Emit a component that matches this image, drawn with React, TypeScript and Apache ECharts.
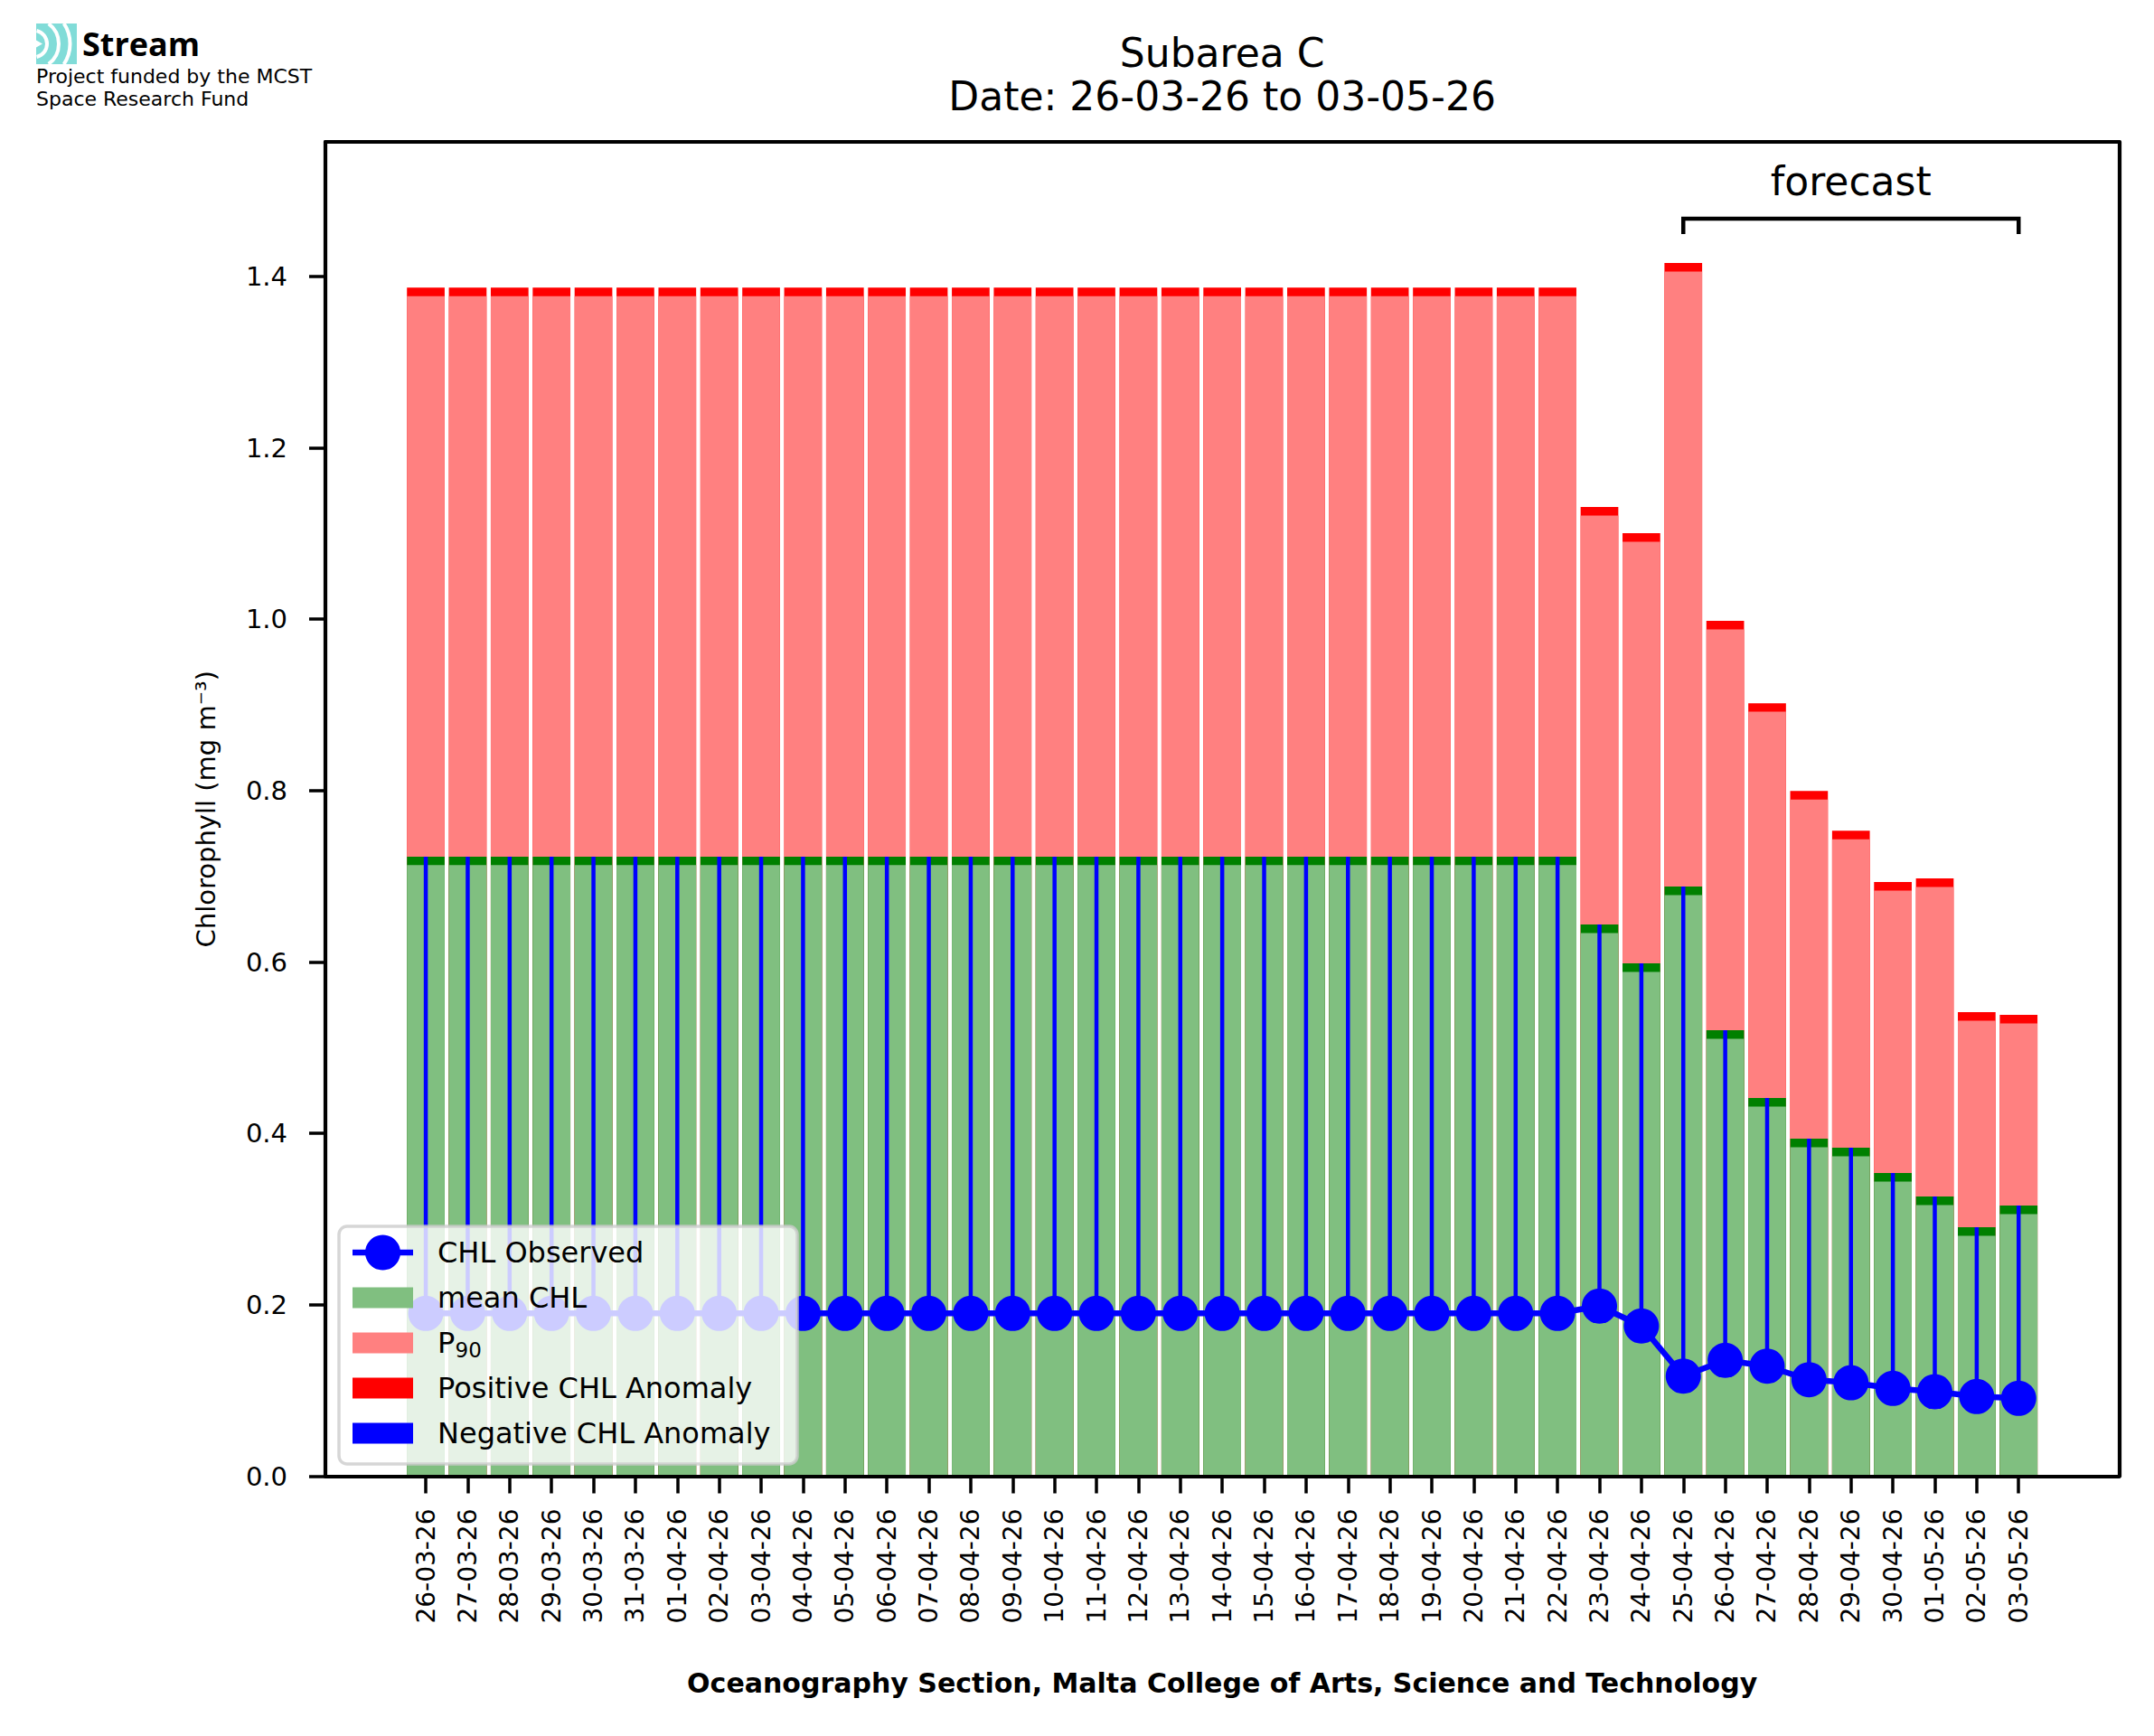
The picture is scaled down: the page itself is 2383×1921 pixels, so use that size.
import React, { useEffect, useRef } from "react";
import * as echarts from "echarts";

// ---------------- data ----------------
const dates = [
  "26-03-26", "27-03-26", "28-03-26", "29-03-26", "30-03-26", "31-03-26",
  "01-04-26", "02-04-26", "03-04-26", "04-04-26", "05-04-26", "06-04-26",
  "07-04-26", "08-04-26", "09-04-26", "10-04-26", "11-04-26", "12-04-26",
  "13-04-26", "14-04-26", "15-04-26", "16-04-26", "17-04-26", "18-04-26",
  "19-04-26", "20-04-26", "21-04-26", "22-04-26", "23-04-26", "24-04-26",
  "25-04-26", "26-04-26", "27-04-26", "28-04-26", "29-04-26", "30-04-26",
  "01-05-26", "02-05-26", "03-05-26",
];

const observed = [
  0.19, 0.19, 0.19, 0.19, 0.19, 0.19, 0.19, 0.19, 0.19, 0.19,
  0.19, 0.19, 0.19, 0.19, 0.19, 0.19, 0.19, 0.19, 0.19, 0.19,
  0.19, 0.19, 0.19, 0.19, 0.19, 0.19, 0.19, 0.19,
  0.1985, 0.1753, 0.1168, 0.1352, 0.1284, 0.1126, 0.1091, 0.1025,
  0.0986, 0.093, 0.0909,
];

const meanChl = [
  0.723, 0.723, 0.723, 0.723, 0.723, 0.723, 0.723, 0.723, 0.723, 0.723,
  0.723, 0.723, 0.723, 0.723, 0.723, 0.723, 0.723, 0.723, 0.723, 0.723,
  0.723, 0.723, 0.723, 0.723, 0.723, 0.723, 0.723, 0.723,
  0.6438, 0.5985, 0.6881, 0.5204, 0.4413, 0.3939, 0.3833, 0.3538,
  0.3264, 0.2905, 0.3158,
];

const p90 = [
  1.387, 1.387, 1.387, 1.387, 1.387, 1.387, 1.387, 1.387, 1.387, 1.387,
  1.387, 1.387, 1.387, 1.387, 1.387, 1.387, 1.387, 1.387, 1.387, 1.387,
  1.387, 1.387, 1.387, 1.387, 1.387, 1.387, 1.387, 1.387,
  1.131, 1.1004, 1.4157, 0.998, 0.902, 0.7997, 0.7533, 0.6934,
  0.6976, 0.5415, 0.5383,
];

const yTicks = [0, 0.2, 0.4, 0.6, 0.8, 1.0, 1.2, 1.4];
const forecastStartIndex = 30;
const forecastEndIndex = 38;

// ---------------- styling / layout constants ----------------
const FONT = "'DejaVu Sans', sans-serif";
const STRIP = 0.01; // thickness of the mean / P90 marker strips
const X_MIN = -2.395;
const X_MAX = 40.395;
const Y_MAX = 1.557;
const BRACKET_TOP = 1.4674;
const BRACKET_LEG = 1.4494;
const FORECAST_TEXT_Y = 1.5107;
const FRAME_W = 4.2;

const C_GREEN_LIGHT = "#80bf80";
const C_GREEN_DARK = "#008000";
const C_PINK = "#ff8080";
const C_RED = "#ff0000";
const C_BLUE = "#0000ff";

const idx = dates.map((_, i) => i);

function buildOption(): any {
  // Overlapping (not stacked) bars, painted back to front:
  // red P90 strip, pink P90 body, dark-green mean strip, light-green mean body.
  const barCommon = {
    type: "bar",
    barWidth: 41.7,
    barGap: "-100%",
    silent: true,
    z: 2,
    clip: false,
  };
  return {
    animation: false,
    backgroundColor: "#ffffff",
    textStyle: { fontFamily: FONT },
    grid: {
      left: 360,
      top: 157,
      right: 38.7,
      bottom: 287.5,
      containLabel: false,
      outerBoundsMode: "none",
    },
    xAxis: [
      {
        type: "value",
        min: X_MIN,
        max: X_MAX,
        position: "bottom",
        z: 10,
        axisLine: { show: true, onZero: false, lineStyle: { color: "#000", width: FRAME_W } },
        axisTick: {
          show: true,
          length: 19,
          lineStyle: { color: "#000", width: 3.5 },
          customValues: idx,
        },
        axisLabel: {
          show: true,
          rotate: 90,
          margin: 36,
          fontSize: 28,
          color: "#000",
          fontFamily: FONT,
          customValues: idx,
          formatter: (v: number) => dates[Math.round(v)] ?? "",
        },
        splitLine: { show: false },
      },
      {
        type: "value",
        min: X_MIN,
        max: X_MAX,
        position: "top",
        z: 10,
        axisLine: { show: true, onZero: false, lineStyle: { color: "#000", width: FRAME_W } },
        axisTick: { show: false },
        axisLabel: { show: false },
        splitLine: { show: false },
      },
    ],
    yAxis: [
      {
        type: "value",
        min: 0,
        max: Y_MAX,
        position: "left",
        z: 10,
        axisLine: { show: true, onZero: false, lineStyle: { color: "#000", width: FRAME_W } },
        axisTick: {
          show: true,
          length: 18,
          lineStyle: { color: "#000", width: 3.5 },
          customValues: yTicks,
        },
        axisLabel: {
          show: true,
          margin: 42,
          fontSize: 29,
          color: "#000",
          fontFamily: FONT,
          customValues: yTicks,
          formatter: (v: number) => v.toFixed(1),
        },
        splitLine: { show: false },
      },
      {
        type: "value",
        min: 0,
        max: Y_MAX,
        position: "right",
        z: 10,
        axisLine: { show: true, onZero: false, lineStyle: { color: "#000", width: FRAME_W } },
        axisTick: { show: false },
        axisLabel: { show: false },
        splitLine: { show: false },
      },
    ],
    series: [
      {
        ...barCommon,
        name: "Positive CHL Anomaly",
        itemStyle: { color: C_RED },
        data: p90.map((p, i) => [i, p]),
      },
      {
        ...barCommon,
        name: "P90",
        itemStyle: { color: C_PINK },
        data: p90.map((p, i) => [i, p - STRIP]),
      },
      {
        ...barCommon,
        name: "mean strip",
        itemStyle: { color: C_GREEN_DARK },
        data: meanChl.map((m, i) => [i, m]),
      },
      {
        ...barCommon,
        name: "mean CHL",
        itemStyle: { color: C_GREEN_LIGHT },
        data: meanChl.map((m, i) => [i, m - STRIP]),
      },
      {
        type: "custom",
        name: "Negative CHL Anomaly",
        silent: true,
        z: 3,
        clip: false,
        encode: { x: 0, y: [1, 2] },
        data: observed.map((o, i) => [i, o, meanChl[i]]),
        renderItem: (_params: any, api: any) => {
          const x = api.value(0);
          const lo = api.coord([x, api.value(1)]);
          const hi = api.coord([x, api.value(2)]);
          return {
            type: "line",
            shape: { x1: lo[0], y1: lo[1], x2: hi[0], y2: hi[1] },
            style: { stroke: C_BLUE, lineWidth: 4.5 },
          };
        },
      },
      {
        type: "line",
        name: "CHL Observed",
        silent: true,
        z: 4,
        clip: false,
        symbol: "circle",
        symbolSize: 39,
        showSymbol: true,
        lineStyle: { color: C_BLUE, width: 6.5 },
        itemStyle: { color: C_BLUE },
        data: observed.map((o, i) => [i, o]),
      },
    ],
  };
}

function buildGraphics(chart: any): any[] {
  const toPx = (x: number, y: number) =>
    chart.convertToPixel({ xAxisIndex: 0, yAxisIndex: 0 }, [x, y]) as number[];

  const a = toPx(forecastStartIndex, BRACKET_LEG);
  const b = toPx(forecastStartIndex, BRACKET_TOP);
  const c = toPx(forecastEndIndex, BRACKET_TOP);
  const d = toPx(forecastEndIndex, BRACKET_LEG);
  const t = toPx((forecastStartIndex + forecastEndIndex) / 2, FORECAST_TEXT_Y);

  const gridLeft = toPx(X_MIN, 0)[0];
  const gridRight = toPx(X_MAX, 0)[0];
  const gridTop = toPx(0, Y_MAX)[1];
  const gridBottom = toPx(0, 0)[1];
  const cx = (gridLeft + gridRight) / 2;
  const cy = (gridTop + gridBottom) / 2;

  const txt = (id: string, x: number, y: number, text: string, size: number, extra: any = {}) => ({
    type: "text",
    id,
    x,
    y,
    z: 100,
    silent: true,
    style: {
      text,
      fill: "#000",
      fontSize: size,
      fontFamily: FONT,
      align: "left",
      verticalAlign: "middle",
      ...extra,
    },
  });

  // legend (drawn manually, matplotlib style)
  const lgX = 375;
  const lgY = 1357;
  const rowY = [1386, 1436, 1486, 1536, 1586];
  const hx0 = 390;
  const hw = 67;
  const textX = 484;
  const patch = (id: string, row: number, color: string) => ({
    type: "rect",
    id,
    z: 101,
    silent: true,
    shape: { x: hx0, y: rowY[row] - 11.5, width: hw, height: 23 },
    style: { fill: color },
  });

  const legend = [
    {
      type: "rect",
      id: "lg-box",
      z: 100,
      silent: true,
      shape: { x: lgX, y: lgY, width: 507, height: 263, r: 9 },
      style: { fill: "rgba(255,255,255,0.8)", stroke: "rgba(204,204,204,0.8)", lineWidth: 3.5 },
    },
    {
      type: "line",
      id: "lg-line",
      z: 101,
      silent: true,
      shape: { x1: hx0, y1: rowY[0], x2: hx0 + hw, y2: rowY[0] },
      style: { stroke: C_BLUE, lineWidth: 6.5 },
    },
    {
      type: "circle",
      id: "lg-dot",
      z: 102,
      silent: true,
      shape: { cx: hx0 + hw / 2, cy: rowY[0], r: 19.5 },
      style: { fill: C_BLUE },
    },
    patch("lg-p1", 1, C_GREEN_LIGHT),
    patch("lg-p2", 2, C_PINK),
    patch("lg-p3", 3, C_RED),
    patch("lg-p4", 4, C_BLUE),
    { ...txt("lg-t0", textX, rowY[0], "CHL Observed", 32), z: 103 },
    { ...txt("lg-t1", textX, rowY[1], "mean CHL", 32), z: 103 },
    { ...txt("lg-t2", textX, rowY[2], "P", 32), z: 103 },
    { ...txt("lg-t2s", textX + 19.5, rowY[2] + 8, "90", 23), z: 103 },
    { ...txt("lg-t3", textX, rowY[3], "Positive CHL Anomaly", 32), z: 103 },
    { ...txt("lg-t4", textX, rowY[4], "Negative CHL Anomaly", 32), z: 103 },
  ];

  // logo
  const logo = [
    {
      type: "rect",
      id: "logo-bg",
      z: 10,
      silent: true,
      shape: { x: 40, y: 26, width: 45, height: 45 },
      style: { fill: "#81dcd8" },
    },
    ...[
      { r: 15, a: 1.33 },
      { r: 28, a: 0.93 },
      { r: 40.5, a: 0.59 },
    ].map((o, k) => ({
      type: "arc",
      id: "logo-arc" + k,
      z: 11,
      silent: true,
      shape: { cx: 37, cy: 48.5, r: o.r, startAngle: -o.a, endAngle: o.a, clockwise: true },
      style: { stroke: "#ffffff", lineWidth: 4, fill: "none" },
    })),
    {
      type: "polygon",
      id: "logo-notch",
      z: 11,
      silent: true,
      shape: { points: [[40, 44.5], [47, 48.5], [40, 52.5]] },
      style: { fill: "#ffffff" },
    },
    {
      ...txt("logo-name", 91, 48, "Stream", 36, { fontFamily: "'Open Sans', sans-serif", fontWeight: "bold" }),
    },
    txt("logo-l1", 40, 84, "Project funded by the MCST", 22),
    txt("logo-l2", 40, 109, "Space Research Fund", 22),
  ];

  return [
    txt("title1", cx, 58.5, "Subarea C", 44, { align: "center" }),
    txt("title2", cx, 106.5, "Date: 26-03-26 to 03-05-26", 44, { align: "center" }),
    {
      ...txt("ylabel", 228, cy, "Chlorophyll (mg m⁻³)", 29, { align: "center" }),
      rotation: Math.PI / 2,
    },
    txt(
      "xlabel",
      cx,
      1862,
      "Oceanography Section, Malta College of Arts, Science and Technology",
      30,
      { align: "center", fontWeight: "bold" }
    ),
    {
      type: "polyline",
      id: "bracket",
      z: 10,
      silent: true,
      shape: { points: [a, b, c, d] },
      style: { stroke: "#000", lineWidth: 4.5, fill: "none", lineJoin: "miter" },
    },
    txt("forecast", t[0], t[1], "forecast", 44, { align: "center" }),
    ...legend,
    ...logo,
  ];
}

export default function App() {
  const ref = useRef<HTMLDivElement>(null);
  useEffect(() => {
    if (!ref.current) return;
    const chart = echarts.init(ref.current, null, { renderer: "svg" });
    chart.setOption(buildOption());
    chart.setOption({ graphic: { elements: buildGraphics(chart) } });
    return () => {
      chart.dispose();
    };
  }, []);
  return (
    <div
      ref={ref}
      style={{
        position: "absolute",
        left: 0,
        top: 0,
        width: 2383,
        height: 1921,
        background: "#ffffff",
      }}
    />
  );
}
